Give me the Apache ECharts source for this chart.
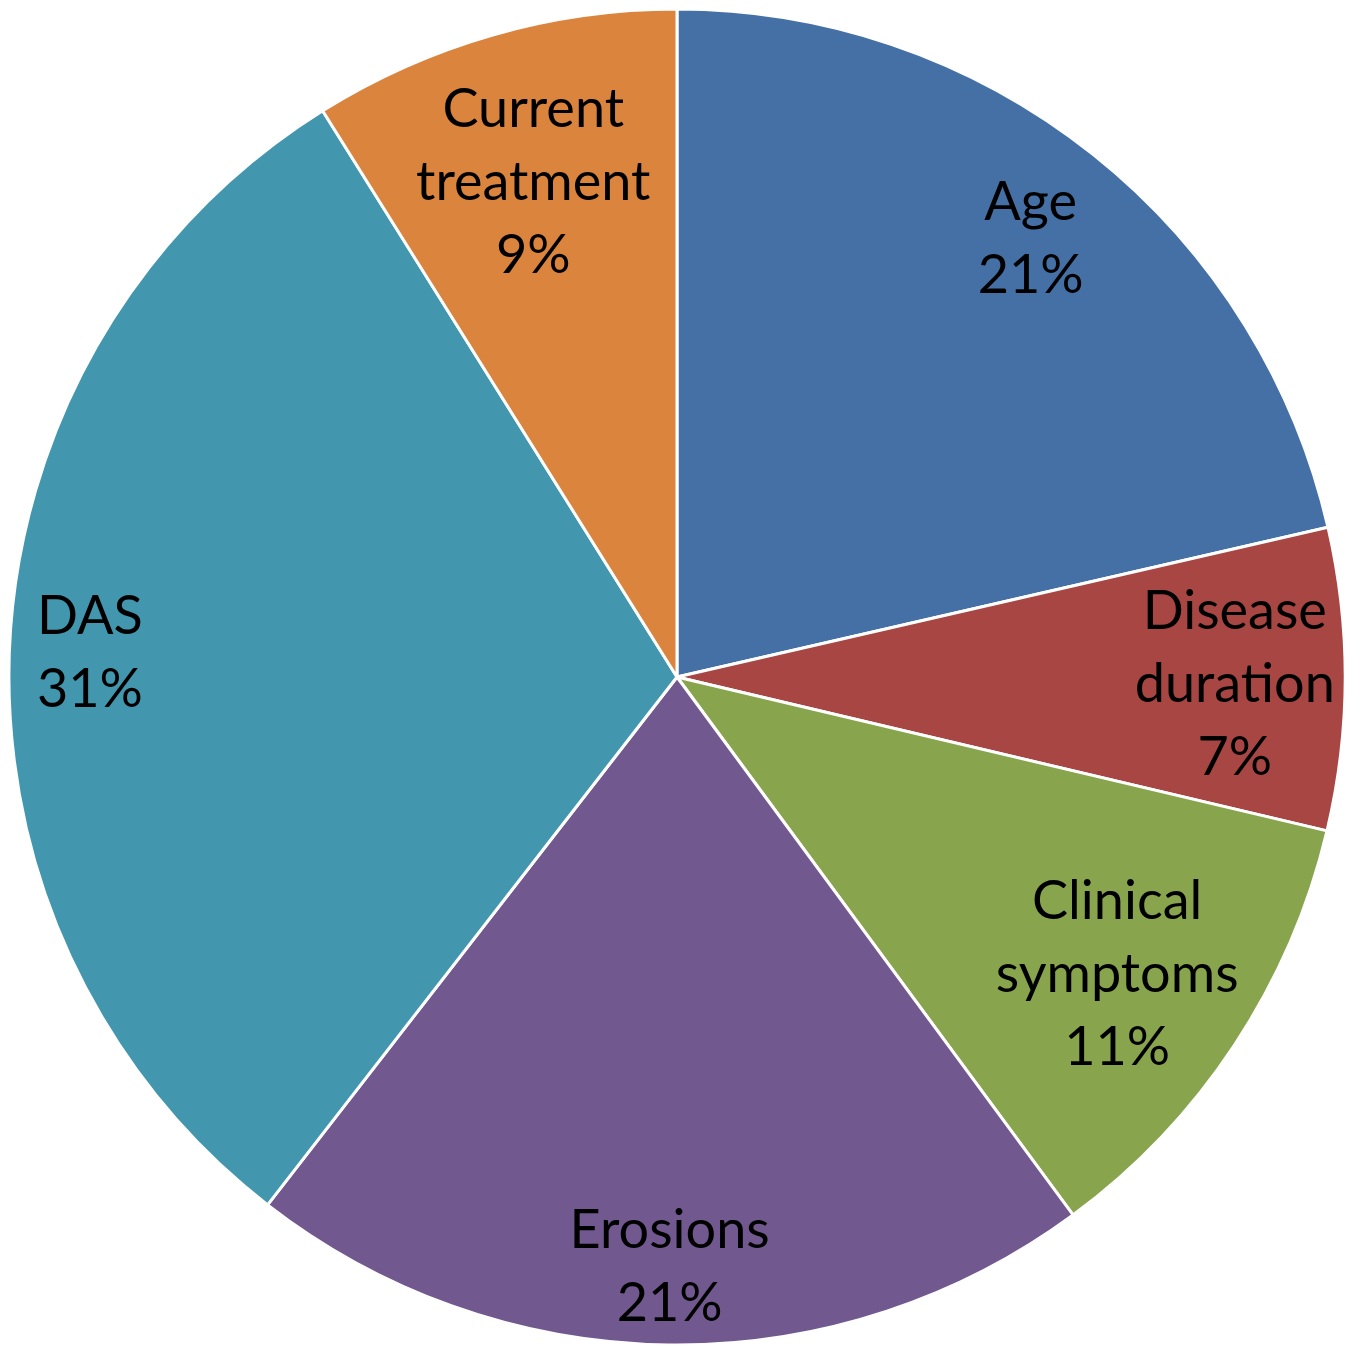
<!DOCTYPE html>
<html>
<head>
<meta charset="utf-8">
<script src="https://cdn.jsdelivr.net/npm/echarts@6/dist/echarts.min.js"></script>
<style>
html,body{margin:0;padding:0;background:#fff;}
#chart{width:1355px;height:1347px;}
</style>
</head>
<body>
<div id="chart"></div>
<script>
const categories = ['Age', 'Disease duration', 'Clinical symptoms', 'Erosions', 'DAS', 'Current treatment'];
const values = [21.4, 7.3, 11.2, 20.6, 30.6, 8.9];
const labelLines = [['Age'], ['Disease', 'duration'], ['Clinical', 'symptoms'], ['Erosions'], ['DAS'], ['Current', 'treatment']];

const colors = ['#4570A6', '#A84644', '#88A54E', '#71588F', '#4297AF', '#DB843D'];
const labelRadiusFrac = [0.85, 0.835, 0.79, 0.875, 0.88, 0.78];
const CX = 677, CY = 677, R = 668;

const chart = echarts.init(document.getElementById('chart'), null, {renderer: 'canvas'});
chart.setOption({
  animation: false,
  color: colors,
  series: [{
    type: 'pie',
    center: [CX, CY],
    radius: [0, R],
    startAngle: 90,
    clockwise: true,
    avoidLabelOverlap: false,
    itemStyle: {borderColor: '#ffffff', borderWidth: 3},
    label: {
      show: true,
      position: 'inside',
      color: '#000',
      fontFamily: 'Lato',
      fontSize: 54,
      lineHeight: 73,
      formatter: function (p) {
        return labelLines[p.dataIndex].concat([Math.round(p.percent) + '%']).join('\n');
      }
    },
    labelLine: {show: false},
    emphasis: {disabled: true},
    labelLayout: function (p) {
      const r = p.labelRect;
      const lx = r.x + r.width / 2, ly = r.y + r.height / 2;
      const dx = lx - CX, dy = ly - CY;
      const d = Math.sqrt(dx * dx + dy * dy) || 1;
      const target = labelRadiusFrac[p.dataIndex] * R;
      return {dx: dx / d * target - dx, dy: dy / d * target - dy + 6};
    },
    data: categories.map((c, i) => ({name: c, value: values[i]}))
  }]
});
</script>
</body>
</html>
